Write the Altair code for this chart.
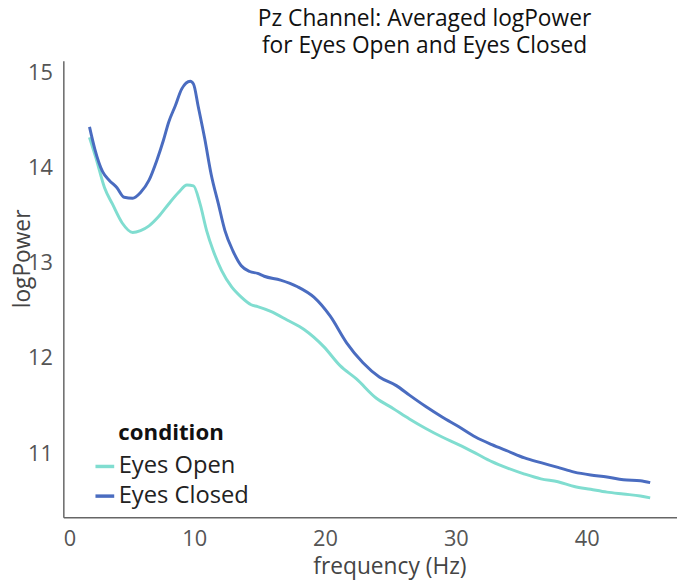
import altair as alt
import pandas as pd

freq_closed = [2.0, 2.4, 3.0, 3.5, 4.1, 4.65, 5.3, 5.9, 6.55, 7.15, 7.65, 8.05, 8.55, 9.05, 9.7,
               9.95, 10.3, 10.8, 11.3, 11.85, 12.35, 12.95, 13.6, 14.25, 14.85, 15.35, 16.6, 17.9,
               19.15, 20.4, 21.65, 22.9, 24.15, 25.45, 26.45, 27.7, 28.95, 30.2, 31.5, 32.75, 34.0,
               35.25, 36.5, 37.8, 39.05, 40.3, 41.55, 42.8, 44.1, 44.85]
val_closed = [14.43, 14.20, 13.96, 13.87, 13.79, 13.69, 13.68, 13.74, 13.87, 14.08, 14.29, 14.48,
              14.65, 14.83, 14.91, 14.88, 14.65, 14.31, 13.93, 13.62, 13.34, 13.13, 12.97, 12.91,
              12.89, 12.86, 12.82, 12.75, 12.64, 12.44, 12.16, 11.95, 11.80, 11.71, 11.61, 11.49,
              11.38, 11.28, 11.17, 11.09, 11.02, 10.95, 10.90, 10.85, 10.80, 10.77, 10.75, 10.72,
              10.71, 10.69]

freq_open = [2.0, 2.5, 3.15, 3.75, 4.5, 5.3, 5.9, 6.55, 7.3, 8.05, 8.8, 9.45, 9.95, 10.45, 10.95,
             11.45, 12.1, 12.85, 13.6, 14.35, 14.85, 15.85, 17.1, 18.4, 19.9, 21.15, 22.4, 23.9,
             25.2, 26.45, 27.7, 28.95, 30.2, 31.5, 32.75, 34.0, 35.25, 36.5, 37.8, 39.05, 40.3,
             41.55, 42.8, 44.1, 44.85]
val_open = [14.32, 14.10, 13.79, 13.62, 13.42, 13.32, 13.34, 13.39, 13.49, 13.62, 13.74, 13.82,
            13.81, 13.62, 13.34, 13.13, 12.92, 12.75, 12.64, 12.56, 12.54, 12.49, 12.40, 12.30,
            12.12, 11.92, 11.78, 11.58, 11.47, 11.36, 11.26, 11.17, 11.09, 11.00, 10.91, 10.84,
            10.78, 10.73, 10.70, 10.65, 10.62, 10.59, 10.57, 10.55, 10.53]

conditions = ["Eyes Open", "Eyes Closed"]
colors = ["#80ddd0", "#4a6cc0"]
x_ticks = [0, 10, 20, 30, 40]
y_ticks = [11, 12, 13, 14, 15]
title_lines = ["Pz Channel: Averaged logPower", "for Eyes Open and Eyes Closed"]

df = pd.concat([
    pd.DataFrame({"frequency": freq_open, "logPower": val_open, "condition": "Eyes Open"}),
    pd.DataFrame({"frequency": freq_closed, "logPower": val_closed, "condition": "Eyes Closed"}),
], ignore_index=True)

FONT = "Open Sans"

chart = alt.Chart(df).mark_line(strokeWidth=3, interpolate="monotone").encode(
    x=alt.X("frequency:Q", title="frequency (Hz)",
            scale=alt.Scale(domain=[0, 46.9], nice=False, zero=False),
            axis=alt.Axis(values=x_ticks, grid=False, ticks=False, labelPadding=11,
                          titleX=330, titleY=50, titleBaseline="middle", titleAlign="center")),
    y=alt.Y("logPower:Q", title="logPower",
            scale=alt.Scale(domain=[10.325, 15.125], nice=False, zero=False),
            axis=alt.Axis(values=y_ticks, grid=False, ticks=False, labelPadding=11,
                          titleX=-41, titleY=200, titleAngle=-90, titleBaseline="middle",
                          titleAlign="center")),
    color=alt.Color("condition:N", sort=conditions,
                    scale=alt.Scale(domain=conditions, range=colors),
                    legend=alt.Legend(title="condition", orient="none", legendX=30, legendY=366,
                                      symbolType="stroke", symbolStrokeWidth=3.5, symbolSize=360,
                                      titleFontSize=22.5, titleFontWeight="bold", titleColor="#111",
                                      titleAnchor="middle", titlePadding=10,
                                      labelFontSize=24, labelColor="#222", labelOffset=2,
                                      rowPadding=6, padding=0)),
    order="frequency:Q",
).properties(
    width=621, height=462,
    title=alt.TitleParams(text=title_lines, fontSize=23, font=FONT, fontWeight="normal",
                          color="#111", anchor="middle", dx=55, offset=3, lineHeight=27.5),
    autosize=alt.AutoSizeParams(type="none"),
    padding={"left": 56, "top": 50, "right": 0, "bottom": 64},
).configure(
    font=FONT, background="white",
).configure_view(
    stroke=None,
).configure_axis(
    domainColor="#666", domainWidth=1.5,
    labelFont=FONT, labelFontSize=22, labelColor="#555",
    titleFont=FONT, titleFontSize=23, titleColor="#444", titleFontWeight="normal",
).configure_legend(
    labelFont=FONT, titleFont=FONT,
)

chart.save("out.html", embed_options={"renderer": "svg", "actions": False})
